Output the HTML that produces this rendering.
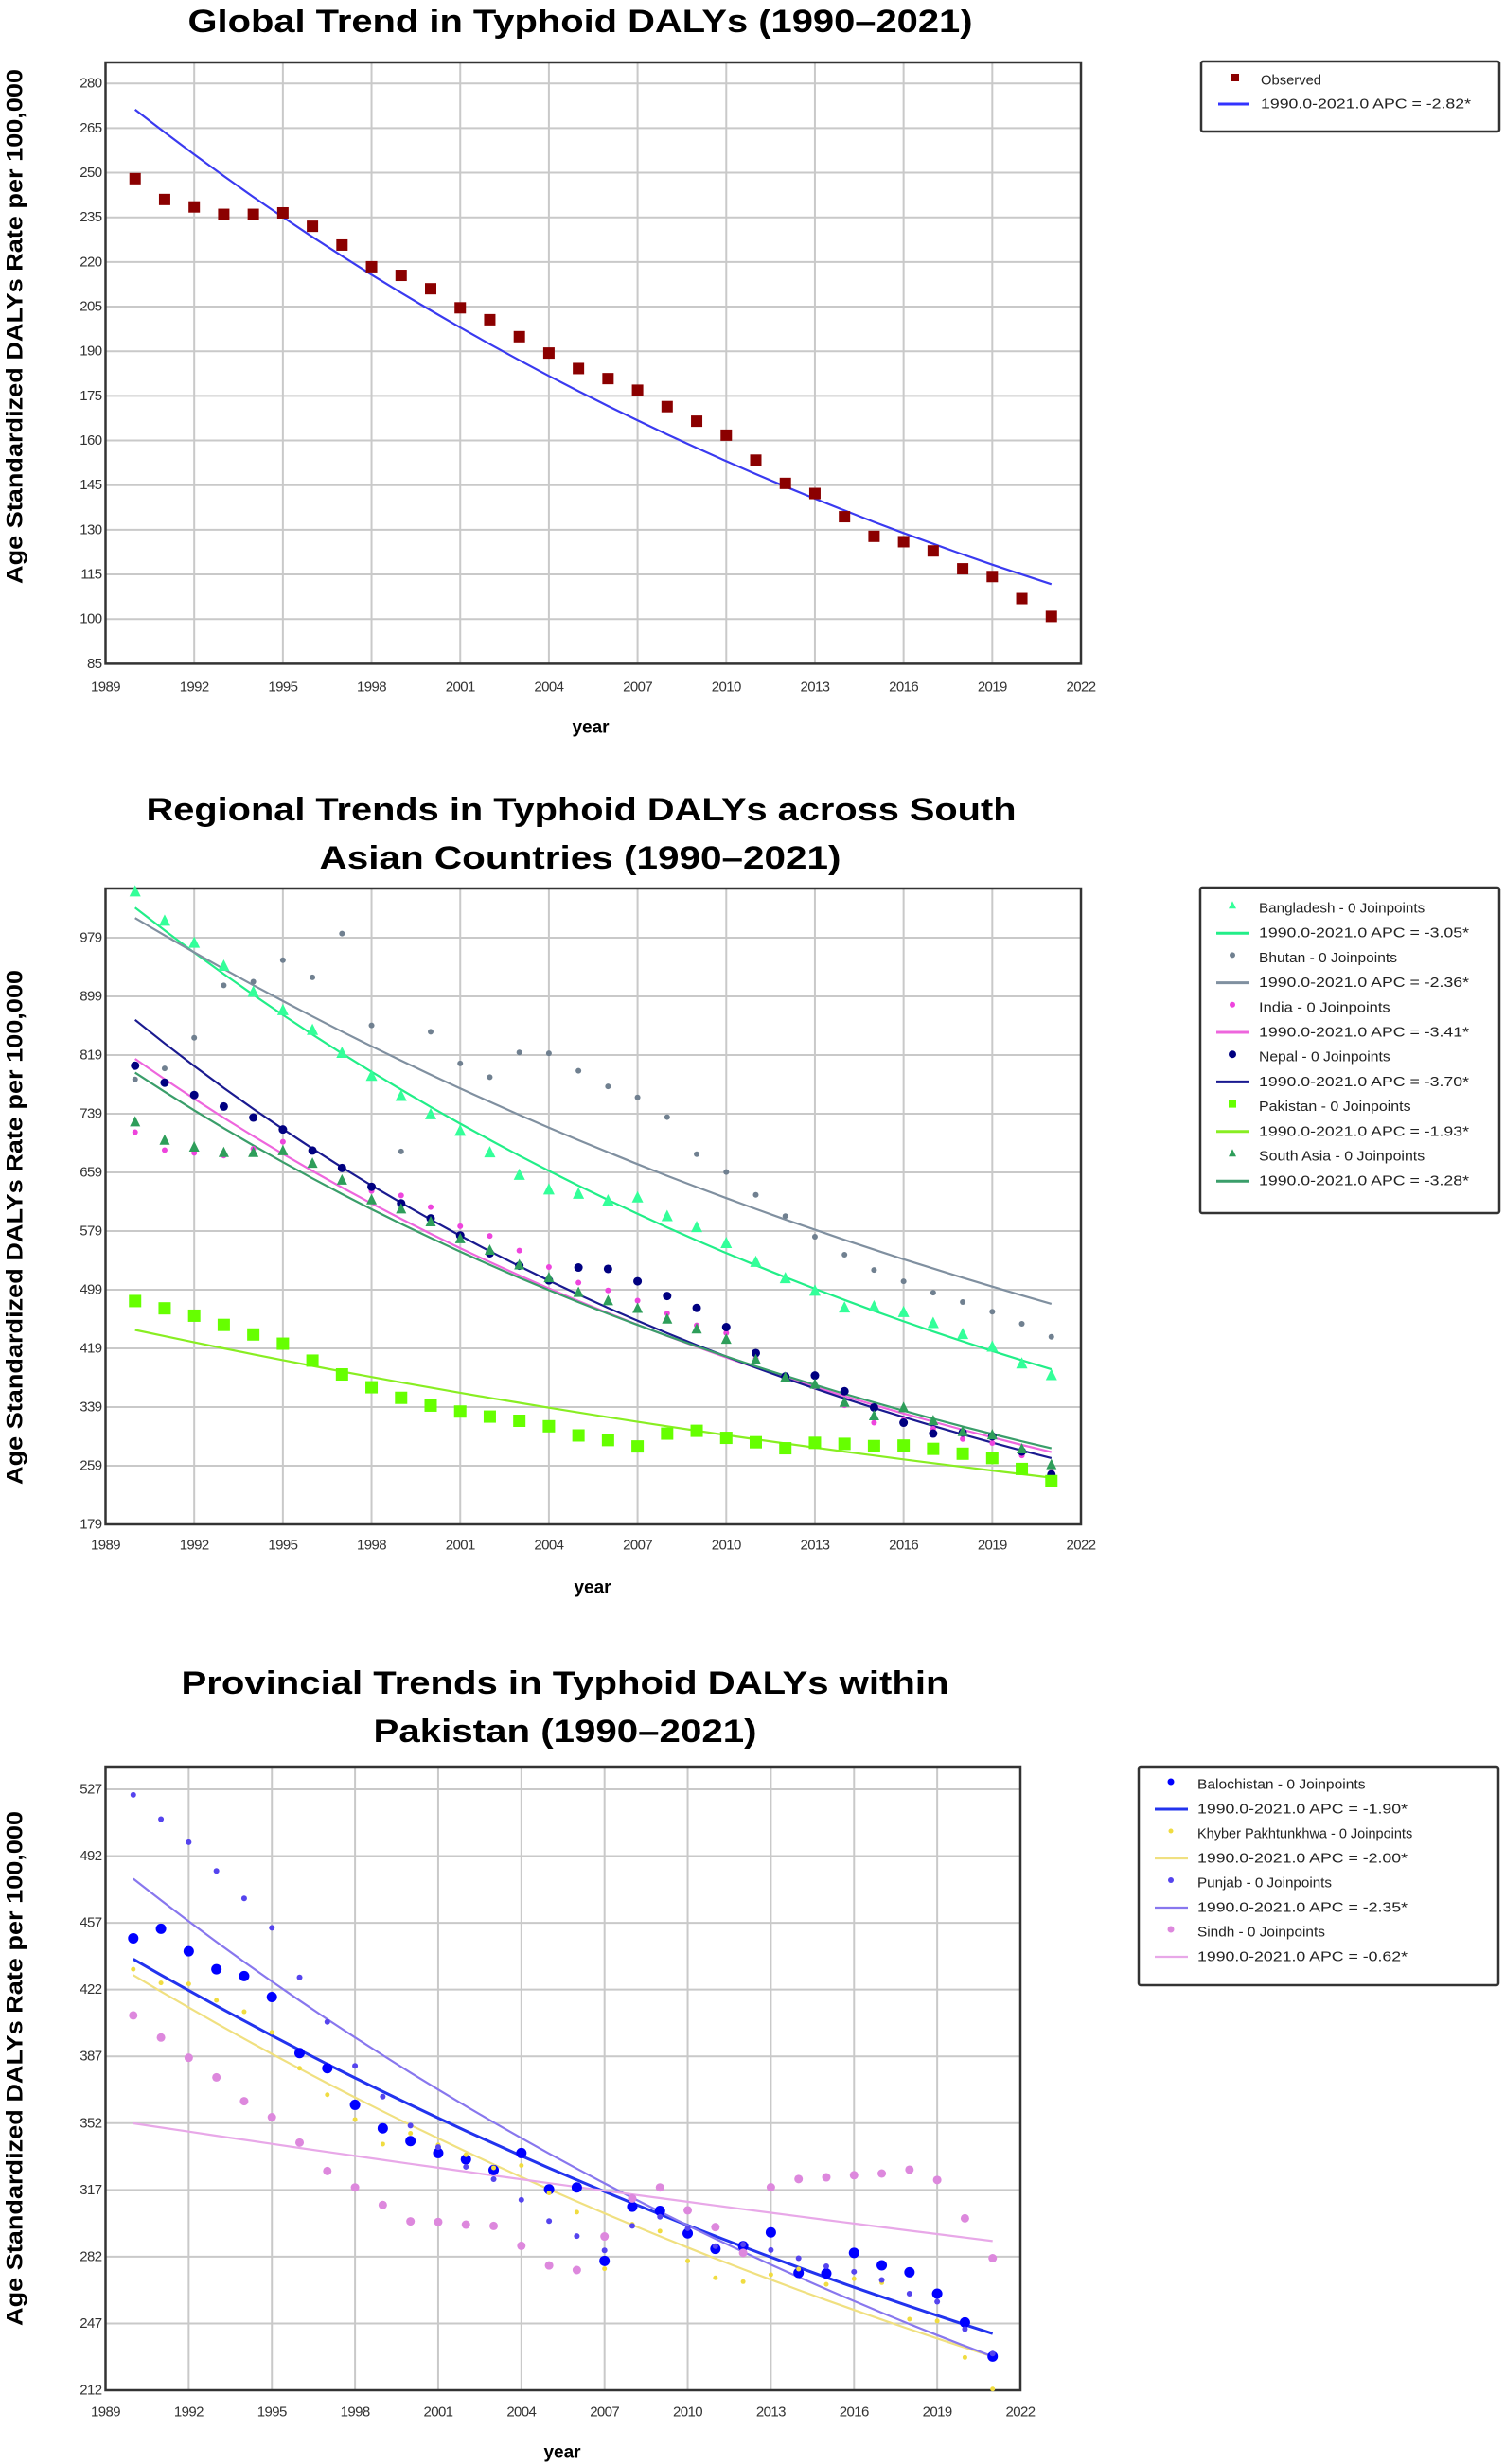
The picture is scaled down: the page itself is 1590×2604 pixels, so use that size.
<!DOCTYPE html>
<html><head><meta charset="utf-8">
<style>
html,body{margin:0;padding:0;background:#fff;}
svg{display:block;font-family:"Liberation Sans",sans-serif;}
.tick{font-size:15px;fill:#333;letter-spacing:-0.6px;}
.grid{stroke:#c9c9c9;stroke-width:2;}
.title{font-weight:bold;font-size:34px;fill:#000;}
.ytitle{font-weight:bold;font-size:24px;fill:#000;}
.xtitle{font-weight:bold;font-size:19px;fill:#000;}
.leg{font-size:15px;fill:#222;}
</style></head>
<body>
<svg id="svg" width="1590" height="2604" viewBox="0 0 1590 2604" xmlns="http://www.w3.org/2000/svg">
<rect x="0" y="0" width="1590" height="2604" fill="#fff"/>
<text class="title" x="613" y="34" text-anchor="middle" textLength="829" lengthAdjust="spacingAndGlyphs">Global Trend in Typhoid DALYs (1990–2021)</text>
<text class="title" x="614" y="867" text-anchor="middle" textLength="919" lengthAdjust="spacingAndGlyphs">Regional Trends in Typhoid DALYs across South</text>
<text class="title" x="613" y="918" text-anchor="middle" textLength="551" lengthAdjust="spacingAndGlyphs">Asian Countries (1990–2021)</text>
<text class="title" x="597" y="1790" text-anchor="middle" textLength="811" lengthAdjust="spacingAndGlyphs">Provincial Trends in Typhoid DALYs within</text>
<text class="title" x="597" y="1841" text-anchor="middle" textLength="405" lengthAdjust="spacingAndGlyphs">Pakistan (1990–2021)</text>
</svg>
<script>
// ---------- data ----------
var years = [];
for (var yy = 1990; yy <= 2021; yy++) years.push(yy);
var xTickLabels = ["1989","1992","1995","1998","2001","2004","2007","2010","2013","2016","2019","2022"];

// Chart 1
var c1YTicks = [85,100,115,130,145,160,175,190,205,220,235,250,265,280];
var globalObserved = [248,241,238.5,236,236,236.5,232,225.7,218.4,215.5,211,204.6,200.6,194.9,189.4,184.2,180.8,176.9,171.4,166.5,161.8,153.4,145.6,142.2,134.4,127.8,126,122.9,116.9,114.3,106.9,100.9];
var globalFitStart = 271.2;
var globalAPC = -2.82;

// Chart 2
var c2YTicks = [179,259,339,419,499,579,659,739,819,899,979];
var bangladesh = [1041.5,1001.5,971.5,940,904.6,879.5,852.6,821.4,790,762.6,737.6,715,685.7,655,635,629.3,620,624.3,598.7,583.7,562,536.4,514,497,474,475.7,468,453,438,420.7,397.7,382];
var bhutan = [785.7,800.7,842.6,914,919,948.4,925,984.6,859.5,687.5,850.8,807.6,788.8,822.6,821.4,797.6,776.3,761.3,734.4,683.8,659.5,628.3,599.4,571.2,546.8,526,510.4,494.9,482.3,469,452.6,434.8];
var india = [713.8,689.4,685.6,681.9,691.3,700.7,671,648,633.7,627.5,611.8,585.6,572.4,552.4,529.9,508.6,498,484.2,466.7,450.5,440,405,380.7,367,341.4,317.7,321.4,309.5,295.4,290,273,251];
var nepal = [804.5,781.3,764.5,748.8,733.8,717.5,688.8,665,639.4,616.8,596.2,573.1,548.7,531.8,511.7,529.3,527.4,510.5,490.5,474.2,448,412.6,380.7,382,360.6,338.4,317.7,302.8,304.3,299,278.4,247];
var pakistan = [483.6,473.6,463.6,451,438,425.4,402.3,383.5,366,351.6,341,332.9,326,320.3,312.8,300.3,294,285.3,302.8,306.6,297,291,282.8,290.2,288.8,285.8,286.5,282,275.4,269.5,254.6,238];
var southAsia = [727.5,702.5,693.1,685.6,685.6,688.1,671,648,621.2,608.7,591.2,568,552.4,532.4,514.9,494.9,483.6,473,458.6,445,431,403,379,369.6,345,326.6,337.7,320,305,300.6,281.4,260];
var c2FitStart = [1020,1005.9,813.9,867,444.2,795];
var c2APC = [-3.05,-2.36,-3.41,-3.70,-1.93,-3.28];
var c2Names = ["Bangladesh","Bhutan","India","Nepal","Pakistan","South Asia"];

// Chart 3
var c3YTicks = [212,247,282,317,352,387,422,457,492,527];
var balochistan = [448.9,453.9,442.1,432.7,429.1,418.1,388.7,380.8,361.6,349.3,342.6,336.3,333,327.4,336.3,317.3,318.3,279.8,308.2,306,294.2,286.1,287.5,294.7,273.5,273.2,284,277.5,273.8,262.6,247.5,229.7];
var khyber = [432.7,425.5,425,416.4,410.4,399.6,380.8,366.9,353.9,341,346.7,340.6,335.4,328.6,329.8,315.4,305.3,275.7,299,295.4,279.8,270.9,268.9,272.6,275.5,267.5,270.4,268.4,249.2,248.3,229.2,212.6];
var punjab = [524.1,511.4,499.3,484.2,469.8,454.4,428.4,405.1,382,365.9,350.7,339.4,329.1,322.6,311.8,300.7,292.8,285.3,298.1,302.9,296.9,287.5,288.4,285.5,281.2,277,274.1,269.8,262.6,258.4,244,231.2];
var sindh = [408.5,396.9,386.3,376,363.5,355.1,341.8,326.9,318.3,309.1,300.5,300.2,298.8,298.1,287.7,277.4,275,292.6,312.5,318.3,306.3,297.5,284,318.4,322.7,323.6,324.7,325.6,327.6,322.2,302.1,281.2];
var c3FitStart = [438,429.6,480.1,351.9];
var c3APC = [-1.90,-2.00,-2.35,-0.62];
var c3Names = ["Balochistan","Khyber Pakhtunkhwa","Punjab","Sindh"];

// ---------- drawing ----------
var NS = "http://www.w3.org/2000/svg";
var svg = document.getElementById("svg");
function mk(tag, attrs, parent){
  var e = document.createElementNS(NS, tag);
  for (var k in attrs) e.setAttribute(k, attrs[k]);
  (parent || svg).appendChild(e);
  return e;
}
function makeAxes(cfg){
  var g = mk("g", {});
  
  
  cfg.x = function(yr){ return cfg.x0 + (yr - 1989) * (cfg.x1 - cfg.x0) / 33; };
  cfg.y = function(v){ return cfg.yb - (v - cfg.vmin) * (cfg.yb - cfg.yt) / (cfg.vmax - cfg.vmin); };
  // grid
  xTickLabels.forEach(function(lab){
    var xx = cfg.x(+lab);
    var l = mk("line", {x1:xx, x2:xx, y1:cfg.top, y2:cfg.yb, "class":"grid"}, g);
    
    
    var t = mk("text", {x:xx, y:cfg.xlabY, "class":"tick", "text-anchor":"middle", "dominant-baseline":"central"}, g);
    t.textContent = lab;
    
    
  });
  cfg.yticks.forEach(function(v){
    var yy = cfg.y(v);
    var l = mk("line", {x1:cfg.x0, x2:cfg.x1, y1:yy, y2:yy, "class":"grid"}, g);
    
    
    var t = mk("text", {x:cfg.x0 - 4, y:yy, "class":"tick", "text-anchor":"end", "dominant-baseline":"central"}, g);
    t.textContent = v;
    
    
  });
  var b = mk("rect", {x:cfg.x0, y:cfg.top, width:cfg.x1 - cfg.x0, height:cfg.yb - cfg.top, fill:"none", stroke:"#333", "stroke-width":2.5}, g);
  
  
  var yt = mk("text", {x:16, y:cfg.ytitleY, "class":"ytitle", "text-anchor":"middle", "dominant-baseline":"central", transform:"rotate(-90 16 " + cfg.ytitleY + ")", textLength:544, lengthAdjust:"spacingAndGlyphs"}, g);
  yt.textContent = "Age Standardized  DALYs Rate per 100,000";
  
  
  var xt = mk("text", {x:cfg.xtitleX, y:cfg.xtitleY, "class":"xtitle", "text-anchor":"middle", "dominant-baseline":"central"}, g);
  xt.textContent = "year";
  
  
  cfg.g = g;
  return cfg;
}
function marker(g, shape, cx, cy, size, color){
  var e;
  if (shape === "square") e = mk("rect", {x:cx - size/2, y:cy - size/2, width:size, height:size, fill:color}, g);
  else if (shape === "tri") e = mk("polygon", {points:(cx) + "," + (cy - size*0.6) + " " + (cx - size/2) + "," + (cy + size*0.4) + " " + (cx + size/2) + "," + (cy + size*0.4), fill:color}, g);
  else e = mk("circle", {cx:cx, cy:cy, r:size/2, fill:color}, g);
  return e;
}
function drawSeries(cfg, name, vals, shape, size, color){
  vals.forEach(function(v, i){
    var m = marker(cfg.g, shape, cfg.x(years[i]), cfg.y(v), size, color);
    
    
  });
}
function drawFit(cfg, name, start, apc, color, w){
  var pts = years.map(function(yr){
    var v = start * Math.pow(1 + apc/100, yr - 1990);
    return cfg.x(yr).toFixed(1) + "," + cfg.y(v).toFixed(1);
  });
  var p = mk("polyline", {points:pts.join(" "), fill:"none", stroke:color, "stroke-width":w}, cfg.g);
  
  
}
function legend(box, rows, name){
  var g = mk("g", {});
  
  
  var r = mk("rect", {x:box.x, y:box.y, width:box.w, height:box.h, fill:"#fff", stroke:"#333", "stroke-width":2.5, rx:2}, g);
  
  
  rows.forEach(function(row, i){
    var yy = box.r0 + i * box.dy;
    if (row.line){
      var l = mk("line", {x1:box.lx0, x2:box.lx1, y1:yy, y2:yy, stroke:row.color, "stroke-width":row.w || 3}, g);
      
      
    } else {
      var m = marker(g, row.shape, box.mx, yy - 3, row.size, row.color);
      
      
    }
    var t = mk("text", {x:box.tx, y:yy, "class":"leg", "dominant-baseline":"central", textLength:row.len, lengthAdjust:"spacingAndGlyphs"}, g);
    t.textContent = row.text;
    
    
  });
}
function apcText(a){ return "1990.0-2021.0 APC  =  " + a.toFixed(2) + "*"; }

// Chart 1
var c1 = makeAxes({name:"global", x0:111.5, x1:1142, top:66, yt:88.2, yb:701.4, vmin:85, vmax:280, yticks:c1YTicks, xlabY:726, ytitleY:345, xtitleX:624, xtitleY:769});
drawFit(c1, "global", globalFitStart, globalAPC, "#3a3af0", 2.2);
drawSeries(c1, "global-observed", globalObserved, "square", 12, "#8b0000");
legend({x:1269, y:65, w:315, h:74, r0:85, dy:25, mx:1305, lx0:1287, lx1:1320, tx:1332}, [
  {shape:"square", size:8, color:"#8b0000", text:"Observed", len:64},
  {line:true, color:"#3333ff", text:apcText(globalAPC), len:222}
], "chart1-legend");

// Chart 2
var c2 = makeAxes({name:"regional", x0:111.5, x1:1142, top:939, yt:991, yb:1611, vmin:179, vmax:979, yticks:c2YTicks, xlabY:1633, ytitleY:1297, xtitleX:626, xtitleY:1678});
var c2Series = [bangladesh, bhutan, india, nepal, pakistan, southAsia];
var c2Color = ["#33ff99","#708090","#ee44dd","#000080","#66ff00","#2e9e5a"];
var c2Line = ["#22ee88","#8090a0","#ee66dd","#1a1a90","#88ee22","#3a9e6a"];
var c2Shape = ["tri","circle","circle","circle","square","tri"];
var c2Size = [12,6,6,9,13,11];
c2Series.forEach(function(s, i){ drawFit(c2, c2Names[i].toLowerCase().replace(" ", "-"), c2FitStart[i], c2APC[i], c2Line[i], 2.2); });
c2Series.forEach(function(s, i){ drawSeries(c2, c2Names[i].toLowerCase().replace(" ", "-"), s, c2Shape[i], c2Size[i], c2Color[i]); });
var rows2 = [];
c2Names.forEach(function(n, i){
  rows2.push({shape:c2Shape[i], size:Math.min(c2Size[i], 8), color:c2Color[i], text:n + " - 0 Joinpoints", len:(n.length + 14) * 7.3});
  rows2.push({line:true, color:c2Line[i], text:apcText(c2APC[i]), len:222});
});
legend({x:1268, y:938, w:316, h:344, r0:960, dy:26.2, mx:1302, lx0:1285, lx1:1320, tx:1330}, rows2, "chart2-legend");

// Chart 3
var c3 = makeAxes({name:"provincial", x0:111.5, x1:1078, top:1867, yt:1891, yb:2526, vmin:212, vmax:527, yticks:c3YTicks, xlabY:2549, ytitleY:2186, xtitleX:594, xtitleY:2592});
var c3Series = [balochistan, khyber, punjab, sindh];
var c3Color = ["#0000ff","#f0dc40","#5544ee","#dd88dd"];
var c3Line = ["#2233ee","#f0e080","#8877ee","#e8a8e8"];
var c3Size = [11,5,6,9];
var c3W = [3,2.2,2.2,2.2];
c3Series.forEach(function(s, i){ drawFit(c3, c3Names[i].toLowerCase().replace(" ", "-"), c3FitStart[i], c3APC[i], c3Line[i], c3W[i]); });
c3Series.forEach(function(s, i){ drawSeries(c3, c3Names[i].toLowerCase().replace(" ", "-"), s, "circle", c3Size[i], c3Color[i]); });
var rows3 = [];
c3Names.forEach(function(n, i){
  rows3.push({shape:"circle", size:Math.min(c3Size[i], 7), color:c3Color[i], text:n + " - 0 Joinpoints", len:(n.length + 14) * 7.1});
  rows3.push({line:true, color:c3Line[i], text:apcText(c3APC[i]), len:222, w:c3W[i]});
});
legend({x:1203, y:1867, w:380, h:231, r0:1886, dy:26, mx:1237, lx0:1220, lx1:1255, tx:1265}, rows3, "chart3-legend");
</script>
</body></html>
